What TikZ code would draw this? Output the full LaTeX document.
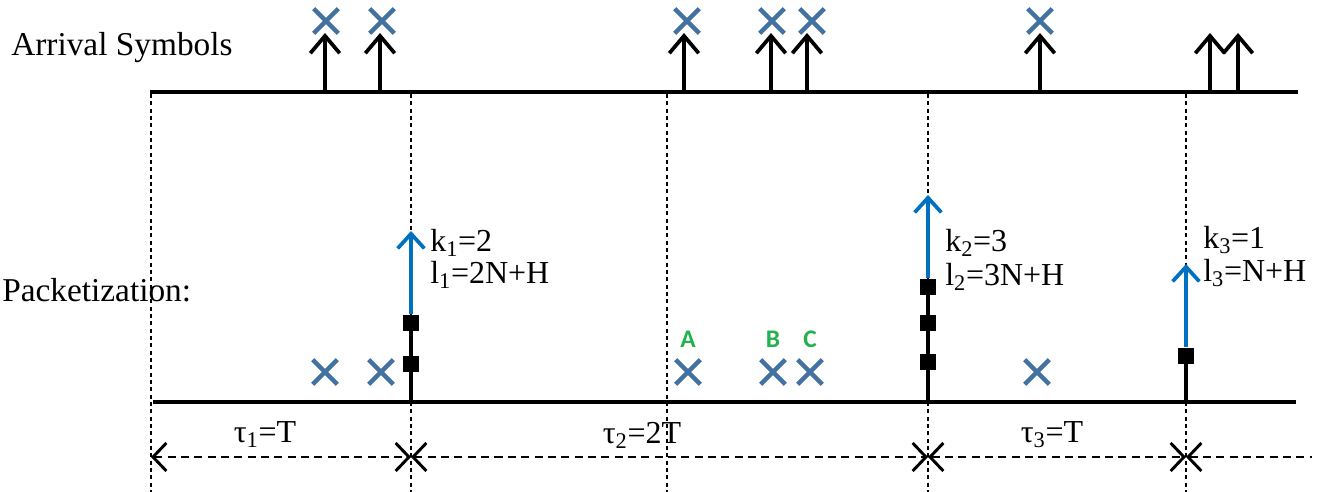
\documentclass[tikz,border=0pt]{standalone}
\usepackage{fontspec}
\newfontfamily\timesfont{Liberation Serif}
\newfontfamily\labfont{Carlito}
\usetikzlibrary{arrows.meta, positioning, shapes.misc}
\definecolor{symblue}{RGB}{68,114,160}
\definecolor{pktblue}{RGB}{0,112,192}
\definecolor{labgreen}{RGB}{34,177,76}

\begin{document}
\begin{tikzpicture}[
  x=0.75pt, y=-0.75pt,
  node distance=9pt,
  axis/.style={line width=3.2pt},
  tick/.style={line width=1.2pt, dash pattern=on 3pt off 2.5pt},
  sym/.style={cross out, draw=symblue, line width=3.4pt,
              minimum size=15pt, inner sep=0pt},
  arr/.style={-{Straight Barb[length=13pt, width=22pt]}, line width=2.8pt},
  pkt/.style={rectangle, fill=black, minimum size=12.5pt, inner sep=0pt},
  parr/.style={-{Straight Barb[length=11pt, width=20pt]}, line width=2.8pt,
               draw=pktblue},
  stem/.style={line width=3.2pt},
  dim/.style={{Straight Barb[length=10pt, width=21pt, line width=2.2pt]}-{Straight Barb[length=10pt, width=21pt, line width=2.2pt]},
              line width=2pt, dash pattern=on 6pt off 4pt},
  dimend/.style={{Straight Barb[length=10pt, width=21pt, line width=2.2pt]}-,
              line width=2pt, dash pattern=on 6pt off 4pt},
  txt/.style={font=\timesfont\fontsize{24}{28}\selectfont, inner sep=0pt},
  title/.style={font=\timesfont\fontsize{25}{30}\selectfont, inner sep=0pt},
  abc/.style={font=\labfont\bfseries\fontsize{19}{22}\selectfont,
              text=labgreen, inner sep=0pt}
]
\useasboundingbox (0,0) rectangle (1330,492);

\foreach \i/\x in {0/151,1/411,2/667,3/928,4/1186} {
  \coordinate (v\i) at (\x,94);
  \coordinate (w\i) at (\x,492);
  \draw[tick] (v\i) -- (w\i);
}

\coordinate (top0) at (150,92);
\coordinate (top1) at (1298,92);
\coordinate (bot0) at (153,402);
\coordinate (bot1) at (1296,402);
\draw[axis] (top0) -- (top1);
\draw[axis] (bot0) -- (bot1);

\node[title, anchor=west] (arrival) at (11,48) {Arrival Symbols};
\node[title, anchor=west] (packet) at (2,290) {Packetization:};

\foreach \i/\x in {1/325,2/380,3/684,4/771,5/807,6/1040,7/1210,8/1238} {
  \coordinate (a\i) at (\x,92);
  \coordinate (h\i) at (\x,33);
  \draw[arr] (a\i) -- (h\i);
}
\foreach \i/\x in {1/326,2/382,3/687,4/772,5/812,6/1040}
  \node[sym] (s\i) at (\x,21) {};

\foreach \i/\x in {1/325,2/381,3/688,4/773,5/810,6/1037}
  \node[sym] (q\i) at (\x,372) {};
\node[abc, above=of q3] (labA) {A};
\node[abc, above=of q4] (labB) {B};
\node[abc, above=of q5] (labC) {C};

\coordinate (p1) at (411,402);
\coordinate (t1) at (411,231);
\draw[stem] (p1) -- (411,323);
\node[pkt] (b11) at (411,364) {};
\node[pkt] (b12) at (411,323) {};
\draw[parr] (b12.north) -- (t1);

\coordinate (p2) at (928,402);
\coordinate (t2) at (928,195);
\draw[stem] (p2) -- (928,287);
\node[pkt] (b21) at (928,362) {};
\node[pkt] (b22) at (928,323) {};
\node[pkt] (b23) at (928,287) {};
\draw[parr] (b23.north) -- (t2);

\coordinate (p3) at (1186,402);
\coordinate (t3) at (1186,264);
\draw[stem] (p3) -- (1186,356);
\node[pkt] (b31) at (1186,356) {};
\draw[parr] (b31.north) -- (t3);

\node[txt, anchor=west] (k1) at (430,243) {k\textsubscript{1}=2};
\node[txt, anchor=west] (l1) at (430,275) {l\textsubscript{1}=2N+H};
\node[txt, anchor=west] (k2) at (945,243) {k\textsubscript{2}=3};
\node[txt, anchor=west] (l2) at (945,277) {l\textsubscript{2}=3N+H};
\node[txt, anchor=west] (k3) at (1203,240) {k\textsubscript{3}=1};
\node[txt, anchor=west] (l3) at (1203,273) {l\textsubscript{3}=N+H};

\coordinate (d0) at (151,457);
\coordinate (d1) at (411,457);
\coordinate (d2) at (928,457);
\coordinate (d3) at (1186,457);
\coordinate (d4) at (1312,457);
\draw[dim] (d0) -- (d1);
\draw[dim] (d1) -- (d2);
\draw[dim] (d2) -- (d3);
\draw[dimend] (d3) -- (d4);

\node[txt] (tau1) at (265,435) {τ\textsubscript{1}=T};
\node[txt] (tau2) at (642,435) {τ\textsubscript{2}=2T};
\node[txt] (tau3) at (1052,435) {τ\textsubscript{3}=T};
\end{tikzpicture}
\end{document}
